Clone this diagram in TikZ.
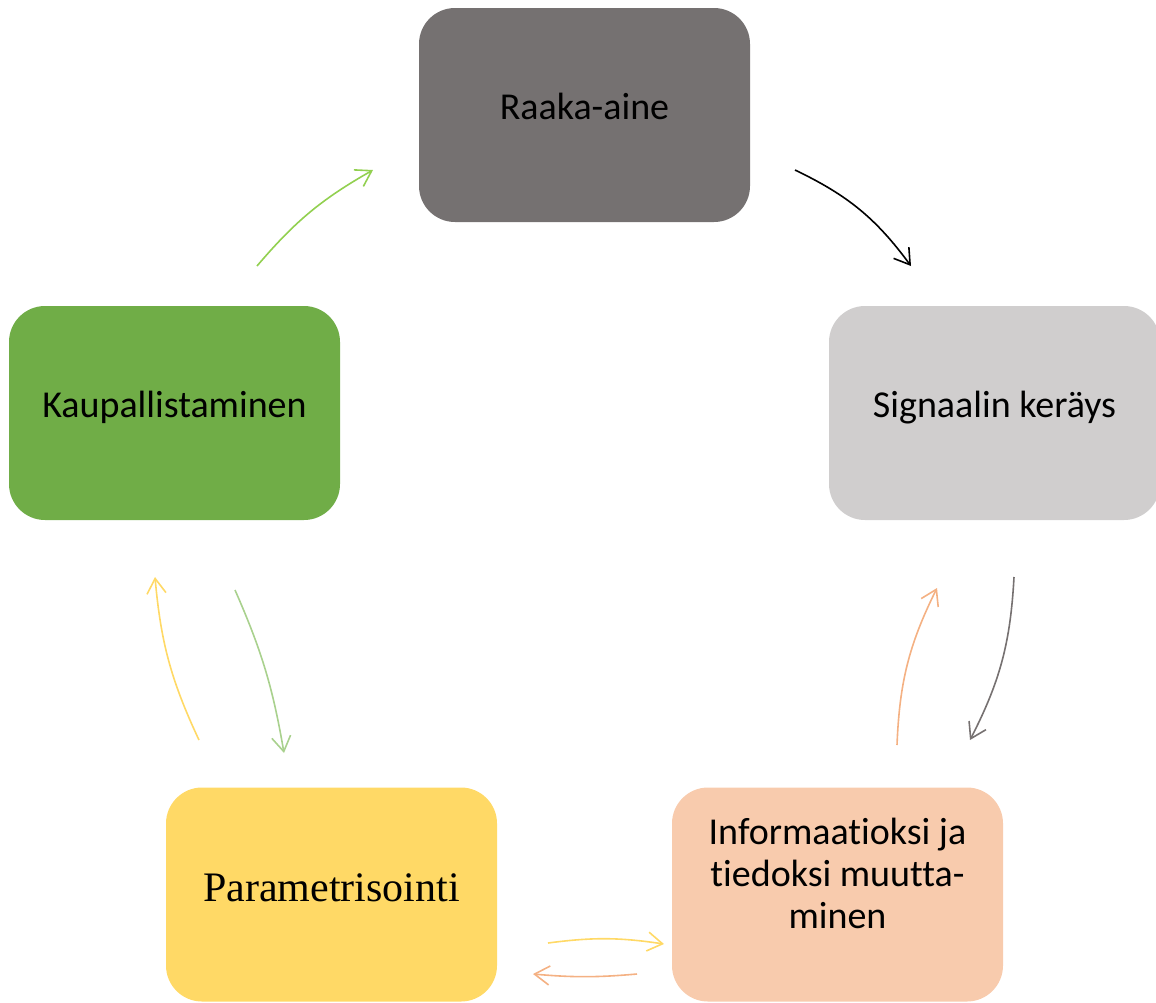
\documentclass[tikz,border=0pt]{standalone}
\usepackage{fontspec}
\setmainfont{Carlito}[Ligatures=NoCommon]
\newfontfamily\timesfont{Liberation Serif}
\usetikzlibrary{arrows.meta}

\definecolor{rawgray}{HTML}{757171}
\definecolor{signalgray}{HTML}{D0CECE}
\definecolor{salesgreen}{HTML}{70AD47}
\definecolor{paramyellow}{HTML}{FFD966}
\definecolor{infoorange}{HTML}{F8CBAD}
\definecolor{arrowgreen}{HTML}{92D050}
\definecolor{arrowpalegreen}{HTML}{A9D18E}
\definecolor{arrowgray}{HTML}{767171}
\definecolor{arroworange}{HTML}{F4B183}
\definecolor{arrowyellow}{HTML}{FFD966}

\begin{document}
\begin{tikzpicture}[x=1pt, y=-1pt,
  box/.style={rounded corners=36pt, minimum width=331pt, minimum height=214pt,
    inner sep=0pt, text height=28pt, text depth=20pt,
    font=\fontsize{38}{42}\selectfont},
  flow/.style={-{Straight Barb[length=15pt, width=19pt]}, line width=1.6pt}]

  \useasboundingbox (0,0) rectangle (1156,1002);

  % process stages
  \node[box, fill=rawgray]    (raw)    at (584.5,115)   {Raaka-aine};
  \node[box, fill=signalgray] (signal) at (994.5,413)   {Signaalin keräys};
  \node[box, fill=salesgreen] (sales)  at (174.5,413)   {Kaupallistaminen};
  \node[box, fill=paramyellow, text height=32pt, text depth=19pt,
        font=\timesfont\fontsize{42}{48}\selectfont]
                              (param)  at (331.5,894.5) {Parametrisointi};
  \node[box, fill=infoorange] (info)   at (837.5,894.5) {};
  \node[align=center, anchor=base, inner sep=0pt,
        font=\fontsize{38}{42}\selectfont]
                              (infotext) at (837.5,928)
        {Informaatioksi ja\\tiedoksi muutta-\\minen};

  % arrow end points
  \coordinate (salesOut)  at (257,266);
  \coordinate (rawIn)     at (373,170);
  \coordinate (rawOut)    at (795,170);
  \coordinate (signalIn)  at (911,266);
  \coordinate (signalOut) at (1014,577);
  \coordinate (infoIn)    at (970,740);
  \coordinate (infoUp)    at (897,745);
  \coordinate (signalBack) at (937,588);
  \coordinate (infoLeft)  at (637,974);
  \coordinate (paramIn)   at (533,974);
  \coordinate (paramOut)  at (548,943);
  \coordinate (infoBack)  at (664,944);
  \coordinate (paramUp)   at (199,740);
  \coordinate (salesIn)   at (155,577);
  \coordinate (salesDown) at (235,590);
  \coordinate (paramBack) at (284,753);

  % flows between stages
  \draw[flow, arrowgreen]     (salesOut)  to[bend left=10] (rawIn);
  \draw[flow, black]          (rawOut)    to[bend left=14] (signalIn);
  \draw[flow, arrowgray]      (signalOut) to[bend left=12] (infoIn);
  \draw[flow, arroworange]    (infoUp)    to[bend left=12] (signalBack);
  \draw[flow, arroworange]    (infoLeft)  to[bend left=5]  (paramIn);
  \draw[flow, arrowyellow]    (paramOut)  to[bend left=8]  (infoBack);
  \draw[flow, arrowyellow]    (paramUp)   to[bend left=10] (salesIn);
  \draw[flow, arrowpalegreen] (salesDown) to[bend left=7]  (paramBack);
\end{tikzpicture}
\end{document}
